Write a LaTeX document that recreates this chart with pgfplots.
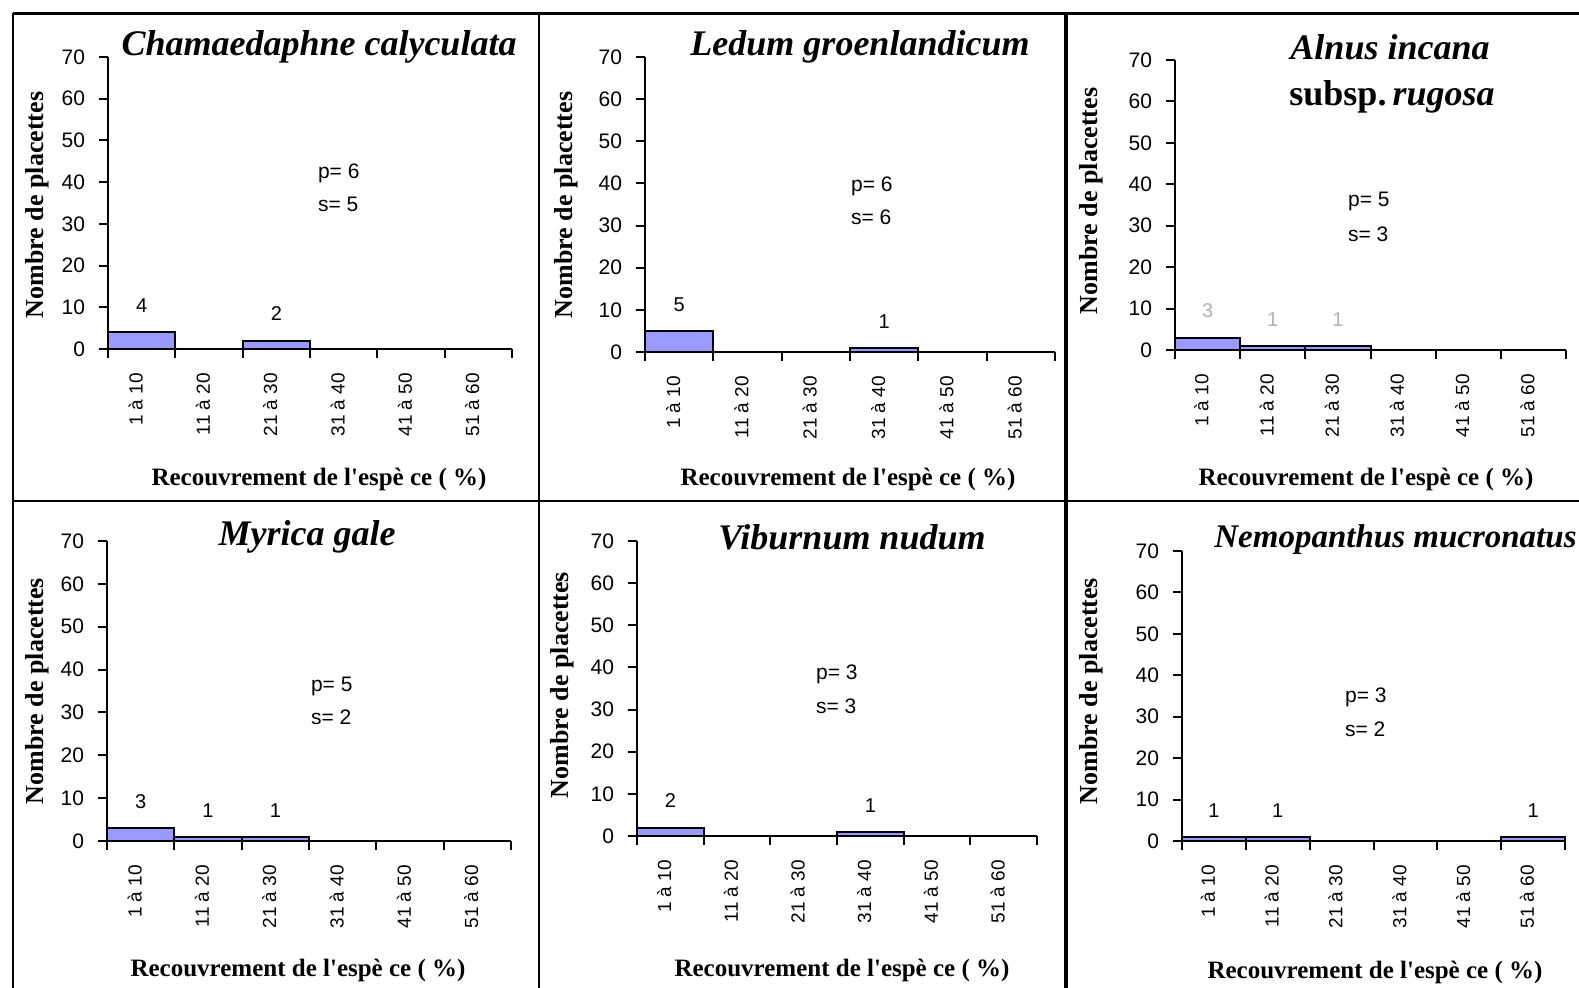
\documentclass[border=0pt]{standalone}
\usepackage{fontspec}
\setmainfont{Liberation Serif}
\setsansfont{Liberation Sans}
\usepackage{pgfplots}
\pgfplotsset{compat=1.18}
\definecolor{barfill}{HTML}{9999FF}

\pgfplotsset{
  panel/.style={
    scale only axis,
    anchor=south west,
    clip=false,
    xmin=0, xmax=6, ymin=0, ymax=70,
    axis lines*=left,
    axis line style={line width=1pt, black},
    ybar, bar width=1, bar shift=0pt,
    ytick={0,10,...,70},
    xtick={0.5,1.5,...,5.5},
    xticklabels={1 à 10, 11 à 20, 21 à 30, 31 à 40, 41 à 50, 51 à 60},
    minor xtick={0,1,...,6},
    major x tick style={draw=none},
    tick align=outside,
    major tick length=4.5pt, minor tick length=4.5pt,
    tick style={line width=1pt, black},
    /pgf/number format/assume math mode=true,
    yticklabel style={font=\sffamily\fontsize{10.5}{12}\selectfont, xshift=-3.5pt},
    xticklabel style={font=\sffamily\fontsize{9.5}{11}\selectfont, yshift=-4pt, xshift=-3pt, rotate=90, anchor=east},
    cycle list={{fill=barfill, draw=black, line width=1pt}},
    nodes near coords={\pgfmathfloatifflags{\pgfplotspointmeta}{0}{}{\pgfmathprintnumber{\pgfplotspointmeta}}},
    nodes near coords style={font=\sffamily\fontsize{10}{12}\selectfont, yshift=6pt, text=black},
  },
}
\tikzset{
  ttl/.style={font=\bfseries\itshape\fontsize{18}{20}\selectfont},
  ylab/.style={rotate=90, font=\bfseries\fontsize{13}{15}\selectfont},
  xlab/.style={font=\bfseries\fontsize{12.5}{15}\selectfont},
  ps/.style={anchor=west, font=\sffamily\fontsize{10.5}{12}\selectfont},
}
\newcommand{\xl}{Recouvrement de l{\addfontfeatures{Ligatures=TeXOff}'}espè ce ( \%)}

\begin{document}
\begin{tikzpicture}
\useasboundingbox (0,0) rectangle (789.5pt,494pt);
\clip (0,0) rectangle (789.5pt,494pt);
\fill[white] (0,0) rectangle (789.5pt,494pt);

% ---------- Panel 1 ----------
\begin{axis}[panel, at={(54pt,319.5pt)}, width=202pt, height=146pt]
\addplot[fill=barfill, draw=black, line width=1pt] coordinates {(0.5,4) (1.5,0) (2.5,2) (3.5,0) (4.5,0) (5.5,0)};
\end{axis}
% ---------- Panel 2 ----------
\begin{axis}[panel, at={(322.5pt,318pt)}, width=205pt, height=147.5pt]
\addplot[fill=barfill, draw=black, line width=1pt] coordinates {(0.5,5) (1.5,0) (2.5,0) (3.5,1) (4.5,0) (5.5,0)};
\end{axis}
% ---------- Panel 3 ----------
\begin{axis}[panel, at={(587.5pt,319pt)}, width=195.5pt, height=145pt,
  nodes near coords style={text=black!30}]
\addplot[fill=barfill, draw=black, line width=1pt] coordinates {(0.5,3) (1.5,1) (2.5,1) (3.5,0) (4.5,0) (5.5,0)};
\end{axis}
% ---------- Panel 4 ----------
\begin{axis}[panel, at={(53.5pt,73.5pt)}, width=202pt, height=150pt]
\addplot[fill=barfill, draw=black, line width=1pt] coordinates {(0.5,3) (1.5,1) (2.5,1) (3.5,0) (4.5,0) (5.5,0)};
\end{axis}
% ---------- Panel 5 ----------
\begin{axis}[panel, at={(318.5pt,76pt)}, width=200pt, height=147.5pt]
\addplot[fill=barfill, draw=black, line width=1pt] coordinates {(0.5,2) (1.5,0) (2.5,0) (3.5,1) (4.5,0) (5.5,0)};
\end{axis}
% ---------- Panel 6 ----------
\begin{axis}[panel, at={(591pt,73.5pt)}, width=191.5pt, height=145pt]
\addplot[fill=barfill, draw=black, line width=1pt] coordinates {(0.5,1) (1.5,1) (2.5,0) (3.5,0) (4.5,0) (5.5,1)};
\end{axis}

% Titles
\node[ttl] at (159.5pt,470.5pt) {Chamaedaphne calyculata};
\node[ttl] at (430pt,470.5pt) {Ledum groenlandicum};
\node[ttl] at (695pt,470.5pt) {Alnus incana};
\node[font=\bfseries\fontsize{18}{20}\selectfont] at (696pt,445.5pt) {subsp.\,\textit{rugosa}};
\node[ttl] at (153.5pt,225.5pt) {Myrica gale};
\node[ttl] at (426pt,225.5pt) {Viburnum nudum};
\node[font=\bfseries\itshape\fontsize{16.5}{18}\selectfont, anchor=east, inner sep=0.5pt] at (789pt,224pt) {Nemopanthus mucronatus};

% y labels
\node[ylab] at (18.5pt,391.5pt) {Nombre de placettes};
\node[ylab] at (283pt,391.5pt) {Nombre de placettes};
\node[ylab] at (545.5pt,393.5pt) {Nombre de placettes};
\node[ylab] at (18.5pt,148.5pt) {Nombre de placettes};
\node[ylab] at (281pt,151.5pt) {Nombre de placettes};
\node[ylab] at (545.5pt,148.5pt) {Nombre de placettes};

% x labels
\node[xlab] at (159.5pt,254.5pt) {\xl};
\node[xlab] at (424pt,254.5pt) {\xl};
\node[xlab] at (683pt,254.5pt) {\xl};
\node[xlab] at (149pt,9pt) {\xl};
\node[xlab] at (421pt,9pt) {\xl};
\node[xlab] at (687.5pt,8pt) {\xl};

% p / s annotations
\node[ps] at (155.5pt,407.5pt) {p= 6};
\node[ps] at (155.5pt,392pt) {s= 5};
\node[ps] at (422pt,401pt) {p= 6};
\node[ps] at (422pt,385.5pt) {s= 6};
\node[ps] at (670.5pt,393.5pt) {p= 5};
\node[ps] at (670.5pt,377pt) {s= 3};
\node[ps] at (152pt,151pt) {p= 5};
\node[ps] at (152pt,135.5pt) {s= 2};
\node[ps] at (404.5pt,157pt) {p= 3};
\node[ps] at (404.5pt,141pt) {s= 3};
\node[ps] at (669pt,145.5pt) {p= 3};
\node[ps] at (669pt,129.5pt) {s= 2};

% frame lines
\draw[line width=1.5pt] (6.5pt,487pt) -- (789.5pt,487pt);
\draw[line width=1pt] (6.5pt,487.7pt) -- (6.5pt,0pt);
\draw[line width=1pt] (269.5pt,487pt) -- (269.5pt,0pt);
\draw[line width=1.6pt] (533pt,487pt) -- (533pt,0pt);
\draw[line width=1.2pt] (6.5pt,243.5pt) -- (789.5pt,243.5pt);
\end{tikzpicture}
\end{document}
